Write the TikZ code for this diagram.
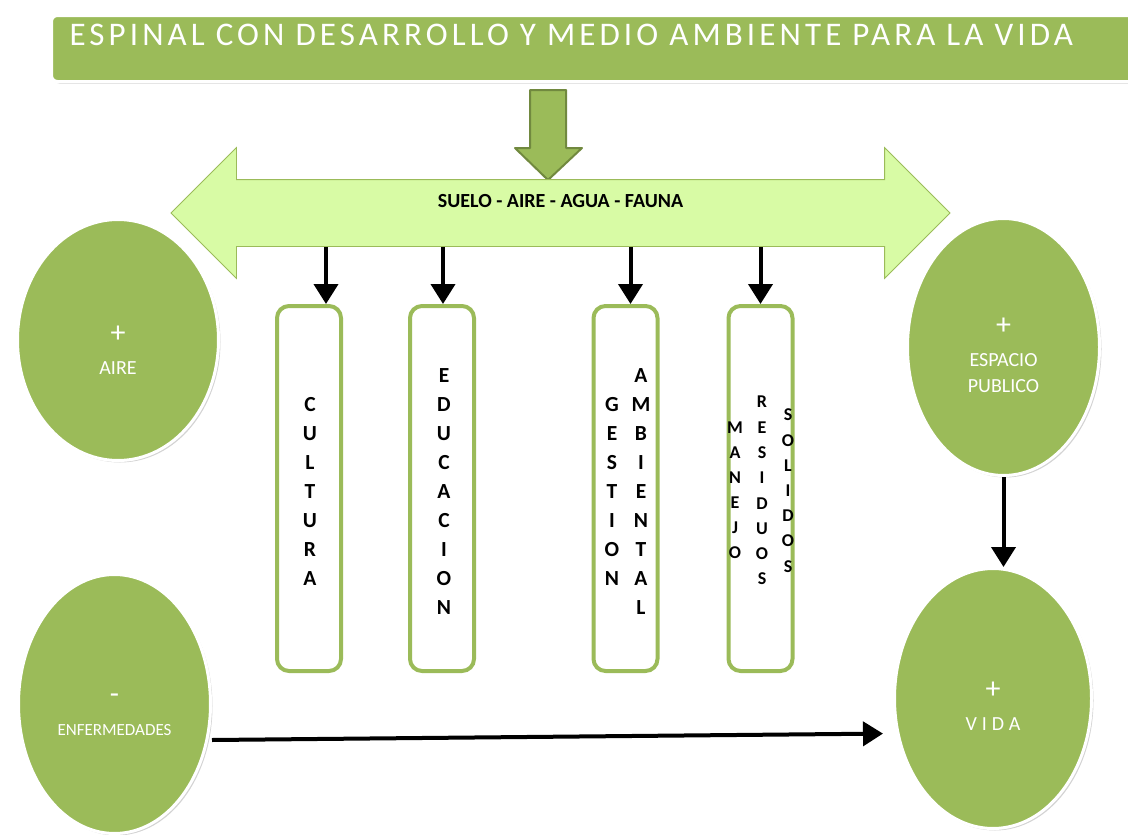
\documentclass[tikz,border=0pt]{standalone}
\usepackage{fontspec}
\setmainfont{Carlito}
\usepackage{tikz}
\usetikzlibrary{shapes.geometric,shapes.arrows,shadows,arrows.meta,calc}

\definecolor{verde}{HTML}{9BBB59}
\definecolor{verdeclaro}{HTML}{D8FBA5}
\definecolor{verdeoscuro}{HTML}{71893F}

\begin{document}
\begin{tikzpicture}[
                        x=1pt, y=-1pt,
                        every node/.style={
                                font=\fontsize{20}{32}\selectfont,
                            },
                        globo/.style={
                                ellipse, fill=verde, draw=white, line width=3pt,
                                text=white, align=center, inner sep=0pt,
                                drop shadow={opacity=0.35, shadow xshift=2pt, shadow yshift=-2pt},
                            },
                        pilar/.style={
                                rectangle, rounded corners=12pt, draw=verde, line width=4pt,
                                fill=white, minimum width=64pt, minimum height=365pt,
                            },
                        letra/.style={font=\bfseries\fontsize{21.5}{21.5}\selectfont, inner sep=0pt},
                        letrita/.style={font=\bfseries\fontsize{18}{18}\selectfont, inner sep=0pt},
                        flecha/.style={line width=4pt, -{Triangle[length=20pt,width=24pt]}},
                    ]

                    \useasboundingbox (0,0) rectangle (1128,835);

                    % titulo
                    \node[anchor=north west, fill=verde, draw=white, line width=3pt, rounded corners=6pt,
                        text=white, inner xsep=18pt, inner ysep=0pt, text width=1060pt, align=left,
                        text height=30pt, text depth=36pt,
                        font=\fontsize{33}{33}\selectfont\addfontfeature{LetterSpace=12.5},
                        drop shadow={opacity=0.35, shadow xshift=2pt, shadow yshift=-2pt}]
                        (titulo) at (50,14) {ESPINAL CON DESARROLLO Y MEDIO AMBIENTE PARA LA VIDA};

                    \draw[fill=verde, draw=verdeoscuro, line width=2pt, line join=round]
                        (530,90) -- (566,90) -- (566,148) -- (582,148) -- (548,180)
                        -- (515,148) -- (530,148) -- cycle;

                    \node[double arrow, double arrow head extend=32pt, minimum height=779pt,
                        fill=verdeclaro, draw=verde, line width=0.8pt, inner xsep=0pt, inner ysep=0pt,
                        text height=27pt, text depth=39pt, font=\bfseries\fontsize{20}{20}\selectfont]
                        (banda) at (560.5,213) {SUELO - AIRE - AGUA - FAUNA};

                    % pilares
                    \node[pilar] (cul) at (309,488.5) {};
                    \node[pilar] (edu) at (442,488.5) {};
                    \node[pilar] (ges) at (625.5,488.5) {};
                    \node[pilar] (man) at (760.5,488.5) {};

                    \foreach \n/\d in {cul/17,edu/1,ges/5,man/0}{
                            \draw[flecha] ($(banda.south -| \n.north)+(\d,0)$) -- ($(\n.north)+(\d,0)$);
                        }

                    \foreach \c [count=\i] in {C,U,L,T,U,R,A}{
                            \node[letra] (cul-\i) at (310,{405+28.9*(\i-1)}) {\c};
                        }
                    \foreach \c [count=\i] in {E,D,U,C,A,C,I,O,N}{
                            \node[letra] (edu-\i) at (444,{376+28.9*(\i-1)}) {\c};
                        }
                    \foreach \c [count=\i] in {G,E,S,T,I,O,N}{
                            \node[letra] (ges-\i) at (612,{405+28.9*(\i-1)}) {\c};
                        }
                    \foreach \c [count=\i] in {A,M,B,I,E,N,T,A,L}{
                            \node[letra] (amb-\i) at (641,{376+28.9*(\i-1)}) {\c};
                        }
                    \foreach \c [count=\i] in {M,A,N,E,J,O}{
                            \node[letrita] (man-\i) at (735,{428+25*(\i-1)}) {\c};
                        }
                    \foreach \c [count=\i] in {R,E,S,I,D,U,O,S}{
                            \node[letrita] (res-\i) at (762,{402+25.3*(\i-1)}) {\c};
                        }
                    \foreach \c [count=\i] in {S,O,L,I,D,O,S}{
                            \node[letrita] (sol-\i) at (788,{415+25.2*(\i-1)}) {\c};
                        }

                    % globos
                    \node[globo, minimum width=201pt, minimum height=241pt] (aire) at (118,340)
                        {\rule{0pt}{36pt}{\fontsize{30}{30}\selectfont +}\\AIRE};
                    \node[globo, minimum width=192pt, minimum height=257pt] (esp) at (1003.5,347)
                        {\rule{0pt}{34pt}{\fontsize{30}{30}\selectfont +}\\ESPACIO\\[-6pt]PUBLICO};
                    \node[globo, minimum width=192pt, minimum height=259pt] (enf) at (114.5,704)
                        {\rule{0pt}{31pt}{\fontsize{30}{30}\selectfont -}\\{\fontsize{17}{17}\selectfont ENFERMEDADES}};
                    \node[globo, minimum width=197pt, minimum height=260pt] (vida) at (993,698.5)
                        {\rule{0pt}{31pt}{\fontsize{30}{30}\selectfont +}\\{\addfontfeature{LetterSpace=25}VIDA}};

                    \draw[flecha] (esp.south) -- (esp.south |- vida.north);
                    \draw[flecha, shorten >=10pt] ([yshift=-36pt]enf.east) -- ([yshift=-35pt]vida.west);
                \end{tikzpicture}
\end{document}
